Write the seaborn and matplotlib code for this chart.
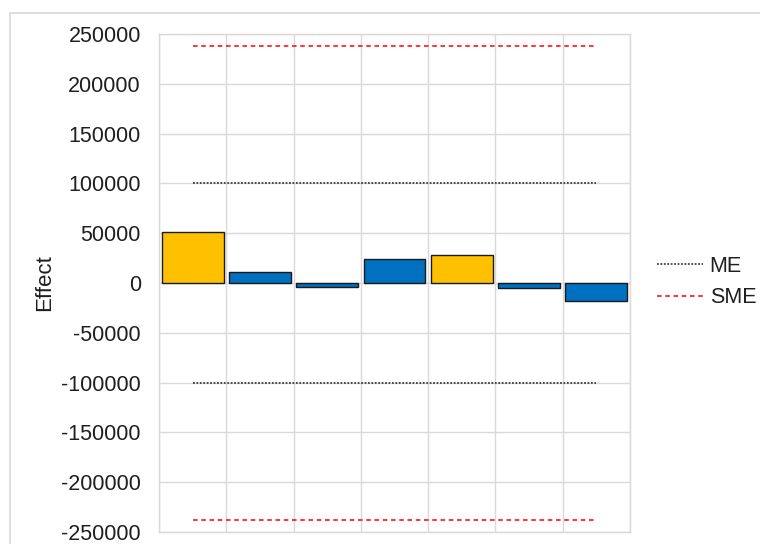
import matplotlib
matplotlib.use("Agg")
import matplotlib.pyplot as plt
import seaborn as sns
import pandas as pd
import numpy as np
from matplotlib.patches import Rectangle
from matplotlib.lines import Line2D

# Factor effects and significance limits
factors = ["A", "B", "C", "D", "E", "F", "G"]
effects = [51000, 11000, -4500, 24000, 28500, -5500, -18000]
significant = ["yes", "no", "no", "no", "yes", "no", "no"]
me_limit = 100000
sme_limit = 238000
y_ticks = list(range(-250000, 250001, 50000))

sns.set_theme(style="white")
plt.rcParams["font.family"] = ["Liberation Sans", "DejaVu Sans"]

fig = plt.figure(figsize=(7.6, 5.44), dpi=100)
ax = fig.add_axes([159 / 760, 1 - 532 / 544, 471 / 760, 498 / 544])

df = pd.DataFrame({"factor": factors, "effect": effects, "group": significant})
sns.barplot(
    data=df, x="factor", y="effect", hue="group",
    palette={"yes": "#FFC000", "no": "#0070C0"}, saturation=1,
    dodge=False, width=0.92, edgecolor="#1a1a1a", linewidth=1.0,
    legend=False, ax=ax, zorder=3,
)

# Margin-of-error reference lines spanning first to last factor
x_span = [0, len(factors) - 1]
me_style = dict(color="#404040", ls=(0, (1.0, 0.9)), lw=1.3)
sme_style = dict(color="#FF0000", ls=(0, (3.0, 2.4)), lw=1.1)
for sign in (1, -1):
    ax.plot(x_span, [sign * me_limit] * 2, zorder=4, **me_style)
    ax.plot(x_span, [sign * sme_limit] * 2, zorder=4, **sme_style)

# Grid and axes styling
ax.set_xlim(-0.5, len(factors) - 0.5)
ax.set_ylim(y_ticks[0], y_ticks[-1])
ax.set_xticks(np.arange(len(factors) + 1) - 0.5)
ax.set_xticklabels([])
ax.set_yticks(y_ticks)
ax.set_yticklabels([str(t) for t in y_ticks])
ax.grid(True, color="#D9D9D9", lw=1.0, zorder=0)
ax.set_axisbelow(True)
for sp in ax.spines.values():
    sp.set_color("#D9D9D9")
    sp.set_linewidth(1.0)
ax.tick_params(axis="both", length=0)
ax.tick_params(axis="y", labelsize=15.5, pad=13, labelcolor="#1f1f1f")
ax.set_xlabel("")
ax.set_ylabel("Effect", fontsize=16, color="#1f1f1f")
ax.yaxis.set_label_coords((55 - 159) / 471, 0.5)

# Legend for the limit lines
handles = [Line2D([], [], **me_style), Line2D([], [], **sme_style)]
fig.legend(handles, ["ME", "SME"], loc="center left",
           bbox_to_anchor=(657 / 760, 1 - 282 / 544), frameon=False,
           fontsize=15.5, handlelength=2.15, handletextpad=0.3,
           borderpad=0, borderaxespad=0, labelspacing=0.5,
           labelcolor="#1f1f1f")

# Outer chart frame
fig.add_artist(Rectangle((10 / 760, -0.2), 1.2, (1 - 13 / 544) + 0.2,
                         transform=fig.transFigure, fill=False,
                         edgecolor="#D9D9D9", lw=1.2))

fig.savefig("out.png", dpi=100)
